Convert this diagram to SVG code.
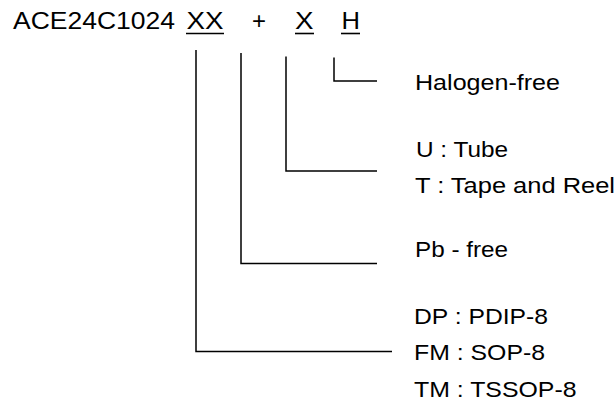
<svg xmlns="http://www.w3.org/2000/svg" width="615" height="402" viewBox="0 0 615 402">
<style>
text{font-family:"Liberation Sans",Arial,sans-serif;fill:#000}
.t{font-size:24px}
.l{font-size:22px}
.c{fill:none;stroke:#000;stroke-width:1.5}
.u{stroke:#000;stroke-width:1.6}
</style>
<rect width="615" height="402" fill="#fff"/>
<g id="title">
<text class="t" x="13" y="28.5" textLength="162" lengthAdjust="spacingAndGlyphs">ACE24C1024</text>
<text class="t" x="186.5" y="28.5" textLength="37" lengthAdjust="spacingAndGlyphs">XX</text>
<text class="t" x="252" y="28.5" textLength="14" lengthAdjust="spacingAndGlyphs">+</text>
<text class="t" x="295" y="28.5" textLength="18.5" lengthAdjust="spacingAndGlyphs">X</text>
<text class="t" x="341.5" y="28.5" textLength="18.5" lengthAdjust="spacingAndGlyphs">H</text>
<line class="u" x1="186" y1="33.5" x2="224" y2="33.5"/>
<line class="u" x1="295" y1="33.5" x2="314" y2="33.5"/>
<line class="u" x1="341" y1="33.5" x2="360" y2="33.5"/>
</g>
<g id="connectors">
<polyline class="c" points="196,50 196,351.5 392,351.5"/>
<polyline class="c" points="241,53 241,263.5 377,263.5"/>
<polyline class="c" points="286,56.5 286,171 377,171"/>
<polyline class="c" points="334,57.5 334,81 377,81"/>
</g>
<g id="halogen">
<text class="l" x="415" y="90" textLength="145" lengthAdjust="spacingAndGlyphs">Halogen-free</text>
</g>
<g id="packing">
<text class="l" x="416" y="157" textLength="92" lengthAdjust="spacingAndGlyphs">U : Tube</text>
<text class="l" x="415" y="193" textLength="200" lengthAdjust="spacingAndGlyphs">T : Tape and Reel</text>
</g>
<g id="pbfree">
<text class="l" x="415" y="257" textLength="93" lengthAdjust="spacingAndGlyphs">Pb - free</text>
</g>
<g id="package">
<text class="l" x="414" y="323.5" textLength="134" lengthAdjust="spacingAndGlyphs">DP : PDIP-8</text>
<text class="l" x="414" y="360" textLength="131" lengthAdjust="spacingAndGlyphs">FM : SOP-8</text>
<text class="l" x="414" y="396.5" textLength="162.5" lengthAdjust="spacingAndGlyphs">TM : TSSOP-8</text>
</g>
</svg>
